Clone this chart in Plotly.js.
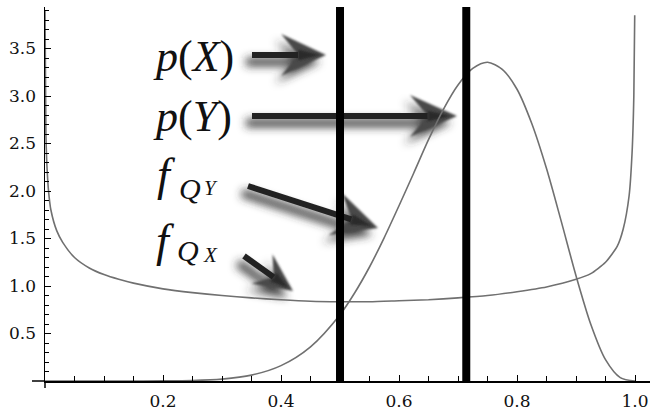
<!DOCTYPE html>
<html>
<head>
<meta charset="utf-8">
<script src="https://cdn.plot.ly/plotly-3.0.1.min.js"></script>
<style>
  html, body { margin: 0; padding: 0; background: #fff; }
  #chart { width: 650px; height: 419px; }
</style>
</head>
<body>
<div id="chart"></div>
<script>
// U-shaped density f_Q
const uX = [0.0, 0.0015, 0.003, 0.006, 0.01, 0.02, 0.03, 0.05, 0.075, 0.1, 0.125, 0.15, 0.2, 0.25, 0.3, 0.35,
            0.4, 0.45, 0.5, 0.55, 0.6, 0.65, 0.7, 0.75, 0.8, 0.85, 0.9, 0.925, 0.95, 0.97, 0.98,
            0.99, 0.995, 0.998, 0.9995];
const uY = [3.9, 2.6, 2.3, 2.0, 1.8, 1.58, 1.46, 1.3, 1.19, 1.12, 1.07, 1.03, 0.97, 0.93, 0.9, 0.875,
            0.855, 0.84, 0.835, 0.835, 0.845, 0.855, 0.875, 0.9, 0.94, 0.99, 1.07, 1.13, 1.25, 1.42, 1.6,
            1.95, 2.4, 3.0, 3.85];

// bell-shaped density
const bX = [0.0, 0.15, 0.2, 0.25, 0.3, 0.35, 0.4, 0.45, 0.5, 0.525, 0.55, 0.575, 0.6, 0.625, 0.65,
            0.675, 0.7, 0.725, 0.75, 0.775, 0.8, 0.825, 0.85, 0.875, 0.9, 0.925, 0.95, 0.975, 1.0];
const bY = [0.0, 0.0, 0.001, 0.005, 0.02, 0.062, 0.162, 0.36, 0.698, 0.929, 1.2, 1.51, 1.845, 2.19, 2.54,
            2.857, 3.116, 3.29, 3.355, 3.28, 3.071, 2.71, 2.236, 1.68, 1.108, 0.598, 0.225, 0.036, 0.0];

// the two marked points p(X) and p(Y)
const markX = [0.5, 0.714];

// tick labels
const xTicks = [0.2, 0.4, 0.6, 0.8, 1.0];
const xTickText = ['0.2', '0.4', '0.6', '0.8', '1.0'];
const yTicks = [0.5, 1.0, 1.5, 2.0, 2.5, 3.0, 3.5];
const yTickText = ['0.5', '1.0', '1.5', '2.0', '2.5', '3.0', '3.5'];

const W = 650, H = 419;
const M = { l: 45, r: 0, t: 7, b: 38 };
const PW = W - M.l - M.r, PH = H - M.t - M.b;
const X_MAX = 1.0254, Y_MAX = 3.937;

// pixel -> paper helpers for annotations and the arrow shapes
const px = v => (v - M.l) / PW;
const py = v => (H - M.b - v) / PH;

const curveStyle = { color: '#707070', width: 1.6 };
const traces = [
  { x: uX, y: uY, mode: 'lines', line: Object.assign({ shape: 'spline', smoothing: 0.6 }, curveStyle), hoverinfo: 'skip' },
  { x: bX, y: bY, mode: 'lines', line: Object.assign({ shape: 'spline', smoothing: 0.8 }, curveStyle), hoverinfo: 'skip' }
];
markX.forEach(m => traces.push({
  x: [m, m], y: [0, Y_MAX], mode: 'lines', line: { color: '#000', width: 8 }, hoverinfo: 'skip'
}));

// shaded arrows
function arrowGeom(S, T, w, L, Hh) {
  const dx = T[0] - S[0], dy = T[1] - S[1], len = Math.hypot(dx, dy);
  const ux = dx / len, uy = dy / len, nx = -uy, ny = ux;
  const B = [T[0] - L * ux, T[1] - L * uy];
  const N = [B[0] + 0.3 * L * ux, B[1] + 0.3 * L * uy];
  const b1 = [B[0] + Hh * nx - 0.12 * L * ux, B[1] + Hh * ny - 0.12 * L * uy];
  const b2 = [B[0] - Hh * nx - 0.12 * L * ux, B[1] - Hh * ny - 0.12 * L * uy];
  const sh = (P, k) => [P[0] + k * w * nx, P[1] + k * w * ny];
  return {
    head: [T, b1, N, b2],
    core: [[T[0] - 0.15 * L * ux, T[1] - 0.15 * L * uy], sh(N, 1.8), sh(N, -1.8)],
    shaft: [sh(S, 1), sh(N, 1), sh(N, -1), sh(S, -1)],
    body: [sh(S, 1.4), sh(N, 1.4), b1, T, b2, sh(N, -1.4), sh(S, -1.4)]
  };
}
const toPath = (pts, ox, oy) =>
  'M ' + pts.map(p => px(p[0] + (ox || 0)) + ',' + py(p[1] + (oy || 0))).join(' L ') + ' Z';

const arrows = [
  { S: [252, 55], T: [326, 55], w: 3, L: 40, H: 21 },
  { S: [252, 116], T: [457, 116], w: 3, L: 42, H: 21 },
  { S: [248, 186], T: [378, 228], w: 3, L: 40, H: 22 },
  { S: [244, 256], T: [293, 291], w: 3, L: 34, H: 18 }
];

const shapes = [];
const blurMap = {};
const addShape = (path, fill, blur) => {
  if (blur) blurMap[shapes.length] = blur;
  shapes.push({ type: 'path', xref: 'paper', yref: 'paper', layer: 'below', path,
    fillcolor: fill, line: { width: 0 } });
};
arrows.forEach(a => {
  const g = arrowGeom(a.S, a.T, a.w, a.L, a.H);
  addShape(toPath(g.body, -6, 7), 'rgba(50,50,50,0.9)', 'arrowShadow');
  addShape(toPath(g.head), '#4a4a4a', 'arrowHead');
  addShape(toPath(g.core), '#2c2c2c', 'arrowHead');
  addShape(toPath(g.shaft), '#232323', 'arrowShaft');
});
// axis stubs past the origin
shapes.push({ type: 'line', xref: 'paper', yref: 'paper', x0: px(32), x1: 0, y0: 0, y1: 0, layer: 'above', line: { color: '#000', width: 1.5 } });
shapes.push({ type: 'line', xref: 'paper', yref: 'paper', x0: 0, x1: 0, y0: py(388), y1: 0, layer: 'above', line: { color: '#000', width: 1.5 } });

const mathFont = (size) => ({ family: 'Liberation Serif, serif', size: size, color: '#111' });
const ann = (text, x, y, size) => ({
  text, xref: 'paper', yref: 'paper', x: px(x), y: py(y), xanchor: 'center', yanchor: 'middle',
  showarrow: false, font: mathFont(size)
});
const annotations = [
  ann('<i>p</i>(<i>X</i>)', 193, 57, 44),
  ann('<i>p</i>(<i>Y</i>)', 192, 117, 44),
  ann('<i>f</i>', 166, 174, 46),
  ann('<i>Q</i>', 190, 188, 30),
  ann('<i>Y</i>', 211, 188, 21),
  ann('<i>f</i>', 165, 240, 46),
  ann('<i>Q</i>', 188, 251, 30),
  ann('<i>X</i>', 210, 255, 21)
];

const tickFont = { family: 'DejaVu Serif, serif', size: 17, color: '#111' };
const layout = {
  width: W, height: H, margin: M, showlegend: false,
  paper_bgcolor: '#fff', plot_bgcolor: '#fff',
  xaxis: {
    range: [0, X_MAX], showgrid: false, zeroline: false, showline: true, linecolor: '#000', linewidth: 1.5,
    tickmode: 'array', tickvals: xTicks, ticktext: xTickText, ticks: 'inside', ticklen: 6, tickcolor: '#000',
    tickfont: tickFont, ticklabelstandoff: 4,
    minor: { tickmode: 'linear', tick0: 0, dtick: 0.05, ticks: 'inside', ticklen: 5, tickcolor: '#000' }
  },
  yaxis: {
    range: [0, Y_MAX], showgrid: false, zeroline: false, showline: true, linecolor: '#000', linewidth: 1.5,
    tickmode: 'array', tickvals: yTicks, ticktext: yTickText, ticks: 'inside', ticklen: 6, tickcolor: '#000',
    tickfont: tickFont, ticklabelstandoff: 4,
    minor: { tickmode: 'linear', tick0: 0, dtick: 0.1, ticks: 'inside', ticklen: 4, tickcolor: '#000' }
  },
  shapes, annotations
};

Plotly.newPlot('chart', traces, layout, { staticPlot: true, displayModeBar: false }).then(gd => {
  // soft-focus filters for the shaded arrows
  const svgNS = 'http://www.w3.org/2000/svg';
  const svg = gd.querySelector('svg.main-svg');
  let defs = svg.querySelector('defs');
  if (!defs) { defs = document.createElementNS(svgNS, 'defs'); svg.insertBefore(defs, svg.firstChild); }
  const addBlur = (id, sd) => {
    const f = document.createElementNS(svgNS, 'filter');
    f.setAttribute('id', id);
    f.setAttribute('filterUnits', 'userSpaceOnUse');
    f.setAttribute('x', -100); f.setAttribute('y', -100);
    f.setAttribute('width', W + 200); f.setAttribute('height', H + 200);
    const b = document.createElementNS(svgNS, 'feGaussianBlur');
    b.setAttribute('stdDeviation', sd);
    f.appendChild(b);
    defs.appendChild(f);
  };
  addBlur('arrowShadow', 4);
  addBlur('arrowHead', 1.2);
  addBlur('arrowShaft', 0.6);
  gd.querySelectorAll('.shapelayer path').forEach(p => {
    const idx = p.getAttribute('data-index');
    if (idx !== null && blurMap[idx]) p.setAttribute('filter', 'url(#' + blurMap[idx] + ')');
  });
});
</script>
</body>
</html>
